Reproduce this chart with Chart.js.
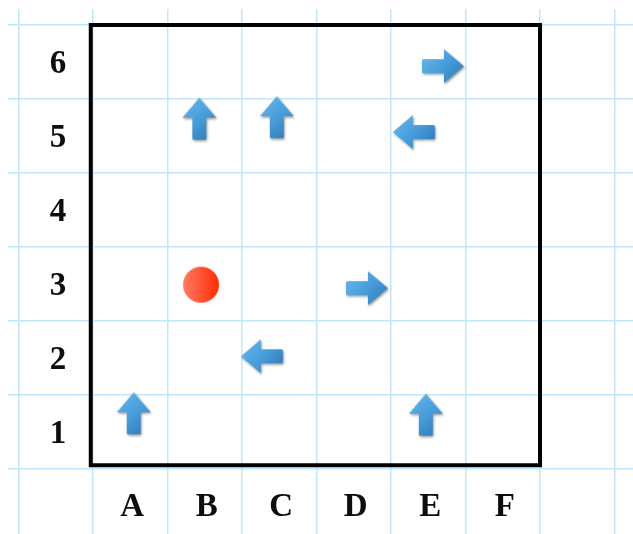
<!DOCTYPE html>
<html><head><meta charset="utf-8">
<script src="https://cdn.jsdelivr.net/npm/chart.js@4/dist/chart.umd.min.js"></script>
<style>html,body{margin:0;padding:0;background:#fff;} #wrap{width:633px;height:534px;}</style>
</head><body><div id="wrap"><canvas id="c" width="633" height="534"></canvas></div>
<script>
// ---- data ----
const columnLabels = ['A','B','C','D','E','F'];
const rowLabels = ['1','2','3','4','5','6'];
const upX = [0.56, 1.44, 2.48, 4.48];
const upY = [0.74, 4.72, 4.74, 0.72];
const leftX = [2.28, 4.32];
const leftY = [1.51, 4.54];
const rightX = [3.69, 4.71];
const rightY = [2.43, 5.43];
const ballX = [1.45];
const ballY = [2.49];
const boxX = [-0.03, 6.0, 6.0, -0.03, -0.03];
const boxY = [0.05, 0.05, 6.0, 6.0, 0.05];

const pts = (xs, ys) => xs.map((v, i) => ({x: v, y: ys[i]}));

// ---- marker images ----
function makeArrow(dir) {
  const L = 42, W = 34, head = 20, shaft = 14;
  const horiz = (dir === 'left' || dir === 'right');
  const cw = horiz ? L + 6 : W + 6, ch = horiz ? W + 6 : L + 6;
  const cv = document.createElement('canvas');
  cv.width = cw; cv.height = ch;
  const c = cv.getContext('2d');
  const rot = {up: 0, right: Math.PI / 2, down: Math.PI, left: -Math.PI / 2}[dir];
  c.translate(cw / 2 - 1, ch / 2 - 1);
  c.rotate(rot);
  c.beginPath();
  const hx = W / 2, hy = L / 2, s = shaft / 2;
  c.moveTo(0, -hy);
  c.lineTo(hx, -hy + head);
  c.lineTo(s, -hy + head);
  c.lineTo(s, hy - 1.5);
  c.quadraticCurveTo(s, hy, s - 1.5, hy);
  c.lineTo(-s + 1.5, hy);
  c.quadraticCurveTo(-s, hy, -s, hy - 1.5);
  c.lineTo(-s, -hy + head);
  c.lineTo(-hx, -hy + head);
  c.closePath();
  c.setTransform(1, 0, 0, 1, 0, 0);
  const g = c.createLinearGradient(0, 0, cw, ch);
  g.addColorStop(0, '#6cbdf0');
  g.addColorStop(0.5, '#479cd9');
  g.addColorStop(1, '#2a6dad');
  c.shadowColor = 'rgba(0,0,0,0.4)';
  c.shadowBlur = 2.5;
  c.shadowOffsetX = 1;
  c.shadowOffsetY = 1.5;
  c.fillStyle = g;
  c.fill();
  return cv;
}
function makeBall() {
  const cv = document.createElement('canvas');
  cv.width = 40; cv.height = 40;
  const c = cv.getContext('2d');
  const g = c.createLinearGradient(2, 0, 38, 0);
  g.addColorStop(0, '#ff7c62');
  g.addColorStop(1, '#ff2c04');
  c.beginPath();
  c.arc(20, 20, 18, 0, Math.PI * 2);
  c.fillStyle = g;
  c.fill();
  return cv;
}

const labelPlugin = {
  id: 'gridLabels',
  afterDatasetsDraw(chart) {
    const {ctx, scales: {x, y}} = chart;
    ctx.save();
    ctx.font = 'bold 33px "Liberation Serif", "DejaVu Serif", serif';
    ctx.fillStyle = '#0d0d0d';
    ctx.textAlign = 'center';
    ctx.textBaseline = 'alphabetic';
    const off = 11;
    rowLabels.forEach((t, i) => ctx.fillText(t, x.getPixelForValue(-0.47), y.getPixelForValue(i + 0.5) + off));
    columnLabels.forEach((t, i) => ctx.fillText(t, x.getPixelForValue(i + 0.5) + 2, y.getPixelForValue(-0.48) + off));
    ctx.restore();
  }
};

const gridColor = '#c0e7fb';
new Chart(document.getElementById('c'), {
  type: 'scatter',
  data: {
    datasets: [
      {type: 'line', data: pts(boxX, boxY), showLine: true, borderColor: '#000', borderWidth: 4,
       pointRadius: 0, fill: false, tension: 0, borderJoinStyle: 'miter', borderCapStyle: 'square'},
      {data: pts(upX, upY), pointStyle: makeArrow('up'), pointRadius: 20},
      {data: pts(leftX, leftY), pointStyle: makeArrow('left'), pointRadius: 20},
      {data: pts(rightX, rightY), pointStyle: makeArrow('right'), pointRadius: 20},
      {data: pts(ballX, ballY), pointStyle: makeBall(), pointRadius: 20}
    ]
  },
  options: {
    responsive: false,
    animation: false,
    layout: {autoPadding: false, padding: {left: 8, top: 9, right: 0, bottom: 0}},
    plugins: {legend: {display: false}, tooltip: {enabled: false}},
    scales: {
      x: {type: 'linear', min: -1.141, max: 7.248,
          ticks: {display: false, stepSize: 1, includeBounds: false, padding: 0},
          grid: {color: gridColor, lineWidth: 1.5, drawTicks: false},
          border: {display: false}},
      y: {type: 'linear', min: -0.878, max: 6.216,
          ticks: {display: false, stepSize: 1, includeBounds: false, padding: 0},
          grid: {color: gridColor, lineWidth: 1.5, drawTicks: false},
          border: {display: false}}
    }
  },
  plugins: [labelPlugin]
});
</script>
</body></html>
